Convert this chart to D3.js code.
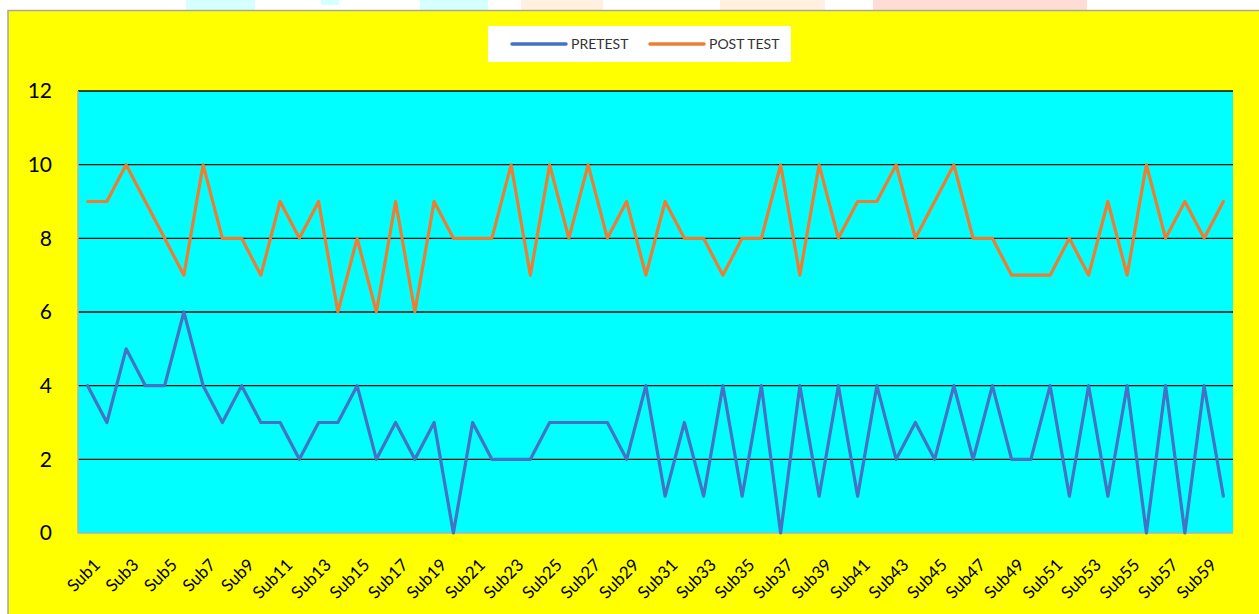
<!DOCTYPE html>
<html>
<head>
<meta charset="utf-8">
<script src="https://cdn.jsdelivr.net/npm/d3@7"></script>
<style>
  html, body { margin: 0; padding: 0; background: #ffffff; }
  svg { display: block; }
</style>
</head>
<body>
<svg id="chart" width="1259" height="614"></svg>
<script>
// Subjects Sub1 … Sub60
const subjects = d3.range(1, 61).map(i => "Sub" + i);

// Scores before the programme
const pretest = [
  4, 3, 5, 4, 4, 6, 4, 3, 4, 3,
  3, 2, 3, 3, 4, 2, 3, 2, 3, 0,
  3, 2, 2, 2, 3, 3, 3, 3, 2, 4,
  1, 3, 1, 4, 1, 4, 0, 4, 1, 4,
  1, 4, 2, 3, 2, 4, 2, 4, 2, 2,
  4, 1, 4, 1, 4, 0, 4, 0, 4, 1
];

// Scores after the programme
const posttest = [
  9, 9, 10, 9, 8, 7, 10, 8, 8, 7,
  9, 8, 9, 6, 8, 6, 9, 6, 9, 8,
  8, 8, 10, 7, 10, 8, 10, 8, 9, 7,
  9, 8, 8, 7, 8, 8, 10, 7, 10, 8,
  9, 9, 10, 8, 9, 10, 8, 8, 7, 7,
  7, 8, 7, 9, 7, 10, 8, 9, 8, 9
];

const yTicks = [0, 2, 4, 6, 8, 10, 12];
const seriesNames = ["PRETEST", "POST TEST"];
const seriesColors = ["#4472C4", "#ED7D31"];

const svg = d3.select("#chart");
const FONT = "Lato, 'Liberation Sans', sans-serif";

// Page strip behind the chart box
const strip = [
  { x0: 186, x1: 255, h: 10, c: "#d6ffff" },
  { x0: 321, x1: 339, h: 5,  c: "#d6ffff" },
  { x0: 420, x1: 488, h: 10, c: "#d6ffff" },
  { x0: 521, x1: 603, h: 10, c: "#fff0e2" },
  { x0: 720, x1: 825, h: 10, c: "#fff0e2" },
  { x0: 873, x1: 1087, h: 10, c: "#ffdcd6" }
];
svg.selectAll("rect.strip").data(strip).join("rect")
  .attr("class", "strip")
  .attr("x", d => d.x0).attr("y", 0)
  .attr("width", d => d.x1 - d.x0).attr("height", d => d.h)
  .attr("fill", d => d.c);

// Chart box
svg.append("rect")
  .attr("x", 8).attr("y", 10.5)
  .attr("width", 1270).attr("height", 620)
  .attr("fill", "#ffff00")
  .attr("stroke", "#a6a6a6").attr("stroke-width", 1.5);

const plot = { left: 78, right: 1233, top: 91, bottom: 533 };

const x = d3.scalePoint()
  .domain(subjects)
  .range([plot.left, plot.right])
  .padding(0.5);

const y = d3.scaleLinear()
  .domain([0, 12])
  .range([plot.bottom, plot.top]);

// Plot background
svg.append("rect")
  .attr("x", plot.left).attr("y", plot.top)
  .attr("width", plot.right - plot.left).attr("height", plot.bottom - plot.top)
  .attr("fill", "#00ffff");

// Horizontal gridlines
svg.append("g")
  .selectAll("line")
  .data(yTicks.filter(t => t > 0))
  .join("line")
  .attr("x1", plot.left).attr("x2", plot.right)
  .attr("y1", d => y(d)).attr("y2", d => y(d))
  .attr("stroke", "#0a0a0a").attr("stroke-width", 1.3);

// Plot frame (left and bottom)
svg.append("path")
  .attr("d", `M${plot.left},${plot.top}V${plot.bottom}H${plot.right}`)
  .attr("fill", "none")
  .attr("stroke", "#9fb6c6").attr("stroke-width", 1.5);

// Y axis labels
const yAxis = d3.axisLeft(y).tickValues(yTicks).tickSize(0).tickPadding(26);
svg.append("g")
  .attr("transform", `translate(${plot.left},0)`)
  .call(yAxis)
  .call(g => g.select(".domain").remove())
  .call(g => g.selectAll("text")
    .attr("font-family", FONT)
    .attr("font-size", 21)
    .attr("fill", "#000"));

// X axis labels, every other subject
const xAxis = d3.axisBottom(x)
  .tickValues(subjects.filter((d, i) => i % 2 === 0))
  .tickSize(0);
svg.append("g")
  .attr("transform", `translate(0,${plot.bottom})`)
  .call(xAxis)
  .call(g => g.select(".domain").remove())
  .call(g => g.selectAll("text")
    .attr("font-family", FONT)
    .attr("font-size", 17)
    .attr("fill", "#000")
    .attr("text-anchor", "end")
    .attr("dy", null)
    .attr("y", 0)
    .attr("transform", "translate(13,33) rotate(-45)"));

// Series lines
const line = d3.line()
  .x((d, i) => x(subjects[i]))
  .y(d => y(d));

[pretest, posttest].forEach((vals, k) => {
  svg.append("path")
    .datum(vals)
    .attr("d", line)
    .attr("fill", "none")
    .attr("stroke", seriesColors[k])
    .attr("stroke-width", 3.2)
    .attr("stroke-linejoin", "round")
    .attr("stroke-linecap", "round");
});

// Legend
const legend = svg.append("g");
legend.append("rect")
  .attr("x", 488).attr("y", 26)
  .attr("width", 303).attr("height", 36)
  .attr("fill", "#ffffff");

const legendItems = [
  { name: seriesNames[0], color: seriesColors[0], x: 512 },
  { name: seriesNames[1], color: seriesColors[1], x: 650 }
];
const li = legend.selectAll("g.item").data(legendItems).join("g")
  .attr("class", "item")
  .attr("transform", d => `translate(${d.x},44)`);
li.append("line")
  .attr("x1", 0).attr("x2", 54)
  .attr("stroke", d => d.color).attr("stroke-width", 3.5)
  .attr("stroke-linecap", "round");
li.append("text")
  .attr("x", 59).attr("dy", "0.36em")
  .attr("font-family", FONT)
  .attr("font-size", 14)
  .attr("fill", "#333")
  .text(d => d.name);
</script>
</body>
</html>
